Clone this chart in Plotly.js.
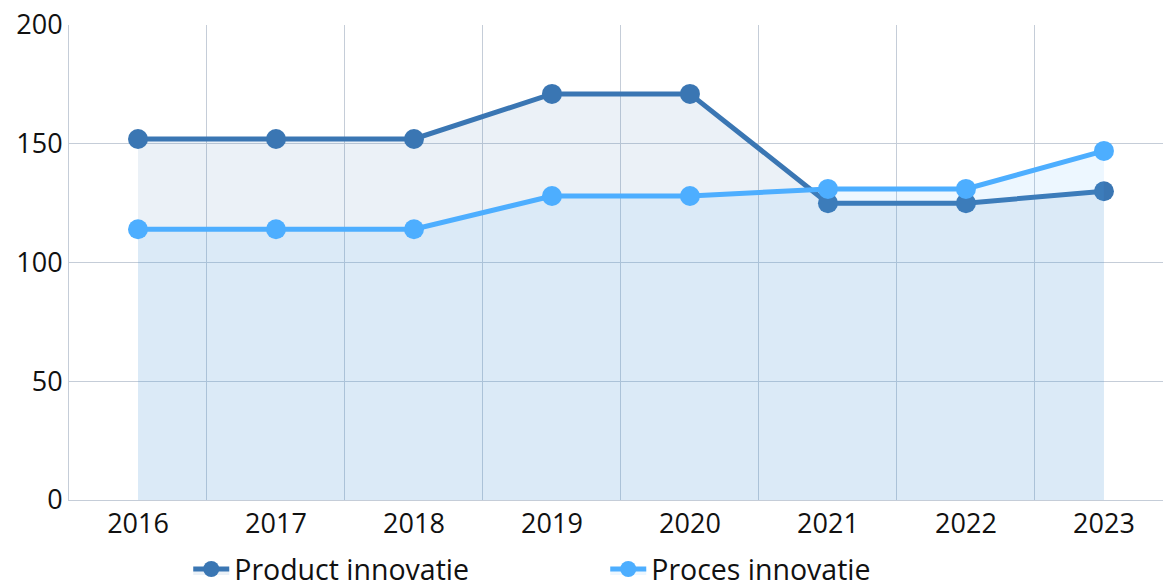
<!DOCTYPE html>
<html><head><meta charset="utf-8">
<script src="https://cdn.plot.ly/plotly-3.0.1.min.js"></script>
<style>html,body{margin:0;padding:0;overflow:hidden;background:#fff;height:587px}</style>
</head><body>
<div id="chart" style="width:1163px;height:620px"></div>
<script>
const years = ['2016','2017','2018','2019','2020','2021','2022','2023'];
const productInnovatie = [152,152,152,171,171,125,125,130];
const procesInnovatie = [114,114,114,128,128,131,131,147];
const yTicks = [0,50,100,150,200];

const idx = years.map((_, i) => i);
const font = {family: '"Open Sans", "Noto Sans", sans-serif', size: 27, color: '#111'};

const traces = [
  {name: 'Product innovatie', x: idx, y: productInnovatie, type: 'scatter', mode: 'lines+markers',
   line: {color: '#3a76b3', width: 5}, marker: {color: '#3a76b3', size: 20},
   fill: 'tozeroy', fillcolor: 'rgba(58,118,179,0.1)'},
  {name: 'Proces innovatie', x: idx, y: procesInnovatie, type: 'scatter', mode: 'lines+markers',
   line: {color: '#4daeff', width: 5}, marker: {color: '#4daeff', size: 20},
   fill: 'tozeroy', fillcolor: 'rgba(77,174,255,0.1)'}
];

const H = 620, T = 25, PLOT_BOTTOM = 500;
const layout = {
  width: 1163, height: H,
  margin: {l: 69, r: 0, t: T, b: 0},
  paper_bgcolor: '#fff', plot_bgcolor: '#fff',
  font: font,
  showlegend: true,
  hovermode: false,
  xaxis: {
    range: [-0.5, 7.428], tickvals: idx, ticktext: years,
    showgrid: false, zeroline: false, showline: true, linecolor: '#c5cdd8', linewidth: 1,
    ticks: '', ticklen: 0, tickfont: font, fixedrange: true, automargin: false,
    minor: {tickmode: 'linear', tick0: 0.5, dtick: 1, showgrid: true, gridcolor: '#c5cdd8', gridwidth: 1, ticks: ''}
  },
  yaxis: {
    domain: [(H - PLOT_BOTTOM) / (H - T), 1],
    range: [0, 200], tickvals: yTicks, showgrid: true, gridcolor: '#c5cdd8', gridwidth: 1,
    zeroline: false, showline: true, linecolor: '#c5cdd8', linewidth: 1,
    ticks: '', tickfont: font, fixedrange: true, automargin: false
  },
  legend: {orientation: 'h', x: 0.109, xanchor: 'left', y: (H - 544) / (H - T), yanchor: 'top',
    font: Object.assign({}, font, {size: 28.5}), entrywidth: 366, itemwidth: 36, bgcolor: 'rgba(0,0,0,0)'}
};

Plotly.newPlot('chart', traces, layout, {displayModeBar: false, staticPlot: true});
</script>
</body></html>
